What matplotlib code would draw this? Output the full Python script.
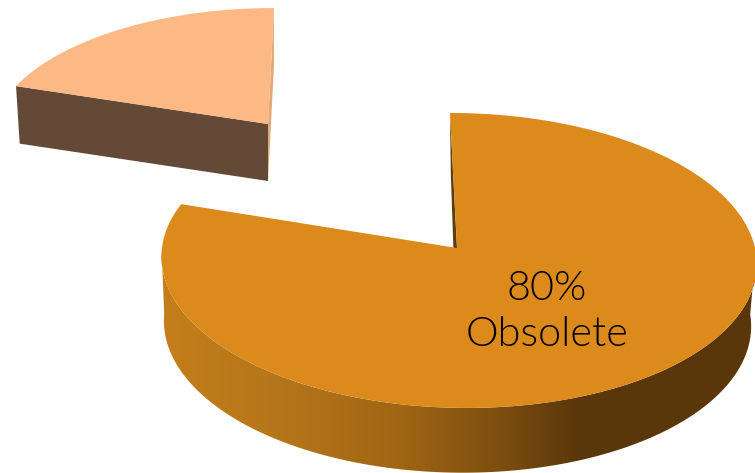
import numpy as np
import matplotlib
matplotlib.use("Agg")
import matplotlib.pyplot as plt
from matplotlib.colors import LinearSegmentedColormap
from matplotlib.patches import Polygon

categories = ["Obsolete", "Other"]
shares = [80, 20]
labels = ["80%", "Obsolete"]
top_colors = ["#DC8A1C", "#FCB985"]
cut_colors = ["#5E3C0B", "#634936"]
back_color = "#E2A877"

W, H = 755, 473
fig = plt.figure(figsize=(W / 100, H / 100), dpi=100)
ax = fig.add_axes([0, 0, 1, 1])
ax.set_xlim(0, W)
ax.set_ylim(H, 0)
ax.axis("off")


def project(theta, apex, B, A, k=0.0847, q=0.0, shear=0.0):
    s, c = np.sin(theta), np.cos(theta)
    w = 1 + k * c + q * s
    y = -A * c / w
    x = B * s / w + shear * y
    return apex[0] + x, apex[1] + y


fractions = np.array(shares, dtype=float) / sum(shares)
span_big = 2 * np.pi * fractions[0]
span_small = 2 * np.pi * fractions[1]

# ---- large slice: runs clockwise from 12 o'clock ----
big_top = dict(apex=(457, 248), B=296.5, A=146.4, q=-0.005, shear=0.052)
big_bot = dict(apex=(455.6, 311), B=292.5, A=148.0, q=-0.005, shear=0.035)
th = np.linspace(0, span_big, 600)
xt, yt = project(th, **big_top)
xb, yb = project(th, **big_bot)

# cut face seen at the start of the slice
ax.fill([xt[0], xb[0], big_bot["apex"][0], big_top["apex"][0]],
        [yt[0], yb[0], big_bot["apex"][1], big_top["apex"][1]],
        color=cut_colors[0], lw=0, zorder=1)

# outer wall with a horizontal gradient, clipped to the wall outline
wall_cmap = LinearSegmentedColormap.from_list(
    "wall", [(0.0, "#C47E1B"), (0.25, "#B5751A"), (0.5, "#A26714"),
             (0.72, "#7E4F10"), (0.90, "#5A370A"), (1.0, "#5A370A")])
vis = np.cos(th) < -0.02
wall_xy = np.c_[np.r_[xt[vis], xb[vis][::-1]], np.r_[yt[vis], yb[vis][::-1]]]
wall = Polygon(wall_xy, closed=True, transform=ax.transData, fc="none", ec="none")
ax.add_patch(wall)
grad = np.clip((np.arange(W + 1) - 165) / (580 - 165) * 0.9, 0, 1)[None, :]
im = ax.imshow(grad, cmap=wall_cmap, vmin=0, vmax=1, extent=(0, W, H, 0),
               aspect="auto", interpolation="bilinear", zorder=2)
im.set_clip_path(wall)
ax.set_xlim(0, W)
ax.set_ylim(H, 0)

ax.fill(np.r_[big_top["apex"][0], xt], np.r_[big_top["apex"][1], yt],
        color=top_colors[0], lw=0, zorder=3)

# ---- small slice: pulled out to the upper left ----
small_top = dict(apex=(268, 124), B=274, A=125.8, shear=-0.052)
small_bot = dict(apex=(268, 181), B=270, A=124.0, shear=-0.052)
th2 = np.linspace(span_big, span_big + span_small, 200)
xs, ys = project(th2, **small_top)
xs2, ys2 = project(th2, **small_bot)

ax.fill([xs[-1], xs2[-1], small_bot["apex"][0], small_top["apex"][0]],
        [ys[-1], ys2[-1], small_bot["apex"][1], small_top["apex"][1]],
        color=back_color, lw=0, zorder=4)
ax.fill([xs[0], xs2[0], small_bot["apex"][0], small_top["apex"][0]],
        [ys[0], ys2[0], small_bot["apex"][1], small_top["apex"][1]],
        color=cut_colors[1], lw=0, zorder=5)
ax.fill(np.r_[small_top["apex"][0], xs], np.r_[small_top["apex"][1], ys],
        color=top_colors[1], lw=0, zorder=6)

# ---- label ----
for text, base in zip(labels, [300, 346]):
    ax.text(547, base, text, ha="center", va="baseline", fontsize=29.8,
            family="Lato", weight=300, color="#000000", zorder=7)

fig.savefig("out.png", dpi=100, facecolor="white")
